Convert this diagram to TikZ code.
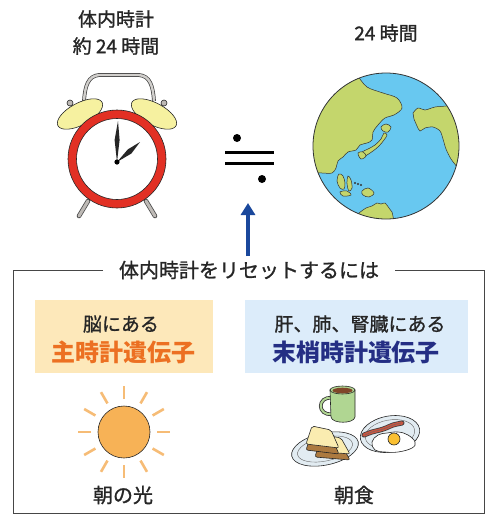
\documentclass[tikz,border=0pt]{standalone}
\usepackage{fontspec}
\setmainfont{Noto Sans CJK JP}
\newfontfamily\jmed{Noto Sans CJK JP}[FakeBold=1.2]
\usetikzlibrary{arrows.meta}
\newcommand\jsize[1]{\fontsize{#1pt}{#1pt}\selectfont}
\definecolor{clockred}{RGB}{226,48,36}
\definecolor{bellyellow}{RGB}{246,241,160}
\definecolor{metalgrey}{RGB}{190,186,182}
\definecolor{ocean}{RGB}{104,200,240}
\definecolor{landgreen}{RGB}{196,214,108}
\definecolor{sunfill}{RGB}{247,178,86}
\definecolor{sunray}{RGB}{246,188,118}
\definecolor{orangebox}{RGB}{253,232,186}
\definecolor{bluebox}{RGB}{220,236,250}
\definecolor{orangetext}{RGB}{236,112,34}
\definecolor{navytext}{RGB}{36,46,132}
\definecolor{arrowblue}{RGB}{26,72,156}
\definecolor{framegrey}{RGB}{70,70,70}
\definecolor{mugreen}{RGB}{176,214,146}
\definecolor{coffee}{RGB}{128,70,40}
\definecolor{plate}{RGB}{226,236,242}
\definecolor{crust}{RGB}{172,122,64}
\definecolor{breadface}{RGB}{250,236,176}
\definecolor{bacon}{RGB}{200,86,66}
\definecolor{yolk}{RGB}{250,192,50}
\begin{document}
\begin{tikzpicture}[x=1pt,y=-1pt,
  ink/.style={draw=black!85, line width=0.6pt},
  txt/.style={inner sep=0pt, text=black!85},
  land/.style={fill=landgreen, draw=black!80, line width=0.5pt},
  ray/.style={draw=sunray, line width=2.6pt},
  frameline/.style={draw=framegrey, line width=1pt}]
\useasboundingbox (0,0) rectangle (489,515);

% ---------- labels on top ----------
\node[txt, font=\jmed\jsize{19}] (bodyclock) at (116,19) {体内時計};
\node[txt, font=\jmed\jsize{19}] (about24) at (116,46) {約 24 時間};
\node[txt, font=\jmed\jsize{19}] (day24) at (386,33) {24 時間};

% ---------- alarm clock ----------
% handle
\draw[line width=0.7pt, draw=black!75, double=metalgrey!70, double distance=2.4pt]
  (84,101) .. controls (85,86) and (88,76) .. (99,75) -- (139,75)
  .. controls (150,76) and (153,86) .. (154,101);
% bell knobs
\filldraw[ink, fill=metalgrey] (70,103) circle[radius=3pt];
\filldraw[ink, fill=metalgrey] (164,103) circle[radius=3pt];
% bells
\filldraw[ink, fill=bellyellow, rotate around={28:(80,114)}] (80,114) ellipse[x radius=25pt, y radius=11pt];
\filldraw[ink, fill=bellyellow, rotate around={-28:(154,114)}] (154,114) ellipse[x radius=25pt, y radius=11pt];
% legs
\draw[line width=4.6pt, draw=black!70, line cap=round] (88,201) -- (79,216);
\draw[line width=3pt, draw=metalgrey, line cap=round] (88,201) -- (79,216);
\draw[line width=4.6pt, draw=black!70, line cap=round] (146,201) -- (155,216);
\draw[line width=3pt, draw=metalgrey, line cap=round] (146,201) -- (155,216);
% face and ring
\coordinate (cc) at (117,159);
\fill[white] (cc) circle[radius=41pt];
\filldraw[ink, fill=clockred, even odd rule] (cc) circle[radius=49pt] (cc) circle[radius=40.5pt];
% hands
\coordinate (pivot) at (117,162);
\fill[black!85] (pivot) -- (119.6,140) -- (118,121) -- (114.6,140) -- cycle;
\fill[black!85] (pivot) -- (131.4,153.5) -- (140,142) -- (127.8,149.4) -- cycle;
\fill[black] (pivot) circle[radius=2.6pt];

% ---------- approximately-equal sign ----------
\fill[black] (237,138) circle[radius=4pt];
\fill[black] (262,179) circle[radius=4pt];
\fill[black] (225,150.5) rectangle (274,153.7);
\fill[black] (225,161.5) rectangle (274,164.7);

% ---------- globe ----------
\coordinate (gc) at (386,146);
\begin{scope}
  \clip (gc) circle[radius=73pt];
  \fill[ocean] (gc) circle[radius=74pt];
  % Asia
  \filldraw[land] (355,60) -- plot[smooth, tension=0.55] coordinates {(358,76) (367,87) (383,93) (397,98) (402,108) (394,115) (385,118) (378,125) (373,132) (372,140) (367,143) (360,145) (356,150) (348,152) (343,157) (338,161) (336,168) (332,173) (322,173) (305,172)} -- (300,172) -- (300,60) -- cycle;
  % Japan
  \filldraw[land] plot[smooth cycle, tension=0.6] coordinates {(384,133) (381,139) (375,145) (368,149) (362,152) (359,156) (362,158) (367,155) (373,151) (379,146) (384,140) (387,135)};
  \filldraw[land] plot[smooth cycle, tension=0.6] coordinates {(381,127) (386,124) (391,127) (388,132) (383,131)};
  \filldraw[land] plot[smooth cycle, tension=0.6] coordinates {(358,153) (363,152) (366,156) (361,159)};
  % North America
  \filldraw[land] plot[smooth, tension=0.5] coordinates {(413,113) (418,108) (425,110) (435,107) (446,106) (462,103)} -- (476,100) -- (476,182) -- plot[smooth, tension=0.5] coordinates {(458,168) (451,159) (446,149) (443,139) (440,131) (433,127) (425,128) (420,131) (417,126) (414,119)} -- cycle;
  % islands
  \filldraw[land] plot[smooth cycle, tension=0.6] coordinates {(339,174) (343,176) (345,183) (344,189) (340,188) (337,181)};
  \filldraw[land] plot[smooth cycle, tension=0.6] coordinates {(348,176) (351,180) (352,188) (349,191) (347,184)};
  \filldraw[land] plot[smooth cycle, tension=0.6] coordinates {(340,192) (347,191) (351,195) (343,196)};
  \filldraw[land] plot[smooth cycle, tension=0.6] coordinates {(362,191) (368,188) (374,193) (369,197) (363,195)};
  \fill[black!80] (355,183) circle[radius=1.2pt] (358,184) circle[radius=1.2pt] (361,185) circle[radius=1.2pt];
  % Australia
  \filldraw[land] (355,232) -- plot[smooth, tension=0.5] coordinates {(359,213) (366,208) (372,206) (377,203) (381,204) (385,203) (389,208) (392,212) (394,222)} -- (394,232) -- cycle;
\end{scope}
\draw[black!80, line width=0.8pt] (gc) circle[radius=73pt];

% ---------- arrow ----------
\coordinate (arrowfoot) at (248,256);
\coordinate (arrowtip) at (248,203);
\draw[arrowblue, line width=4pt, -{Triangle[length=12pt,width=14pt]}] (arrowfoot) -- (arrowtip);

% ---------- frame and heading ----------
\node[txt, font=\jmed\jsize{20}] (reset) at (249,270) {体内時計をリセットするには};
\draw[frameline] (103,270) -- (13,270) -- (13,513) -- (484,513) -- (484,270) -- (395,270);

% ---------- gene boxes ----------
\fill[orangebox] (35,300) rectangle (213,373);
\node[txt, font=\jmed\jsize{19}] (brain) at (121,324) {脳にある};
\node[txt, font=\jsize{24}\bfseries, text=orangetext] (master) at (124,352) {主時計遺伝子};
\fill[bluebox] (245,300) rectangle (468,373);
\node[txt, font=\jmed\jsize{19}] (organs) at (360,324) {肝、肺、腎臓にある};
\node[txt, font=\jsize{24}\bfseries, text=navytext] (peripheral) at (356,352) {末梢時計遺伝子};

% ---------- sun ----------
\coordinate (sc) at (124,432);
\foreach \a in {0,30,...,330}
  \draw[ray] (sc) ++(\a:33pt) -- ++(\a:13pt);
\filldraw[ink, fill=sunfill] (sc) circle[radius=26pt];
\node[txt, font=\jmed\jsize{20}] (light) at (123,495) {朝の光};

% ---------- breakfast ----------
% mug
\draw[line width=3.6pt, black!80] (332,398) .. controls (317,396) and (317,416) .. (332,414);
\draw[line width=2pt, mugreen] (332,398) .. controls (317,396) and (317,416) .. (332,414);
\filldraw[ink, fill=mugreen] (330,390) -- (331,417) .. controls (332,424) and (354,424) .. (355,417) -- (355,390) -- cycle;
\filldraw[ink, fill=mugreen] (342.5,390) ellipse[x radius=12.5pt, y radius=4pt];
\fill[coffee] (342.5,390.5) ellipse[x radius=10pt, y radius=2.8pt];
% left plate
\filldraw[ink, fill=plate, rotate around={12:(325,449)}] (325,449) ellipse[x radius=34pt, y radius=16pt];
\draw[black!60, line width=0.4pt, rotate around={12:(325,449)}] (325,449) ellipse[x radius=28pt, y radius=12pt];
% toast, lower slice
\filldraw[ink, fill=crust, rounded corners=2pt] (320,440) -- (341,444) -- (350,460) -- (315,457) -- cycle;
\filldraw[ink, fill=breadface, rounded corners=2pt] (320,434) -- (341,438) -- (350,454) -- (315,451) -- cycle;
% toast, upper slice
\filldraw[ink, fill=crust, rounded corners=2pt] (312,432) -- (331,436) -- (339,454) -- (306,450) -- cycle;
\filldraw[ink, fill=breadface, rounded corners=2pt] (312,426) -- (331,430) -- (339,448) -- (306,444) -- cycle;
% right plate
\filldraw[ink, fill=plate, rotate around={10:(390,434)}] (390,434) ellipse[x radius=30pt, y radius=18pt];
\draw[black!60, line width=0.4pt, rotate around={10:(390,434)}] (390,434) ellipse[x radius=25pt, y radius=14pt];
% bacon
\draw[line width=5pt, black!75, line cap=round] plot[smooth] coordinates {(364,435) (372,432) (380,430) (386,428) (393,425) (402,423)};
\draw[line width=3.4pt, bacon, line cap=round] plot[smooth] coordinates {(364,435) (372,432) (380,430) (386,428) (393,425) (402,423)};
\draw[line width=0.4pt, black!60] plot[smooth] coordinates {(365,435) (372,432) (380,430) (386,428) (393,425) (401,423)};
% egg
\filldraw[ink, fill=white] plot[smooth cycle, tension=0.7] coordinates {(372,442) (378,435) (387,433) (398,432) (408,435) (415,442) (412,448) (398,452) (385,452) (375,450)};
\filldraw[ink, fill=yolk] (394,439) circle[radius=6pt];
\node[txt, font=\jmed\jsize{20}] (breakfast) at (354,495) {朝食};
\end{tikzpicture}
\end{document}
